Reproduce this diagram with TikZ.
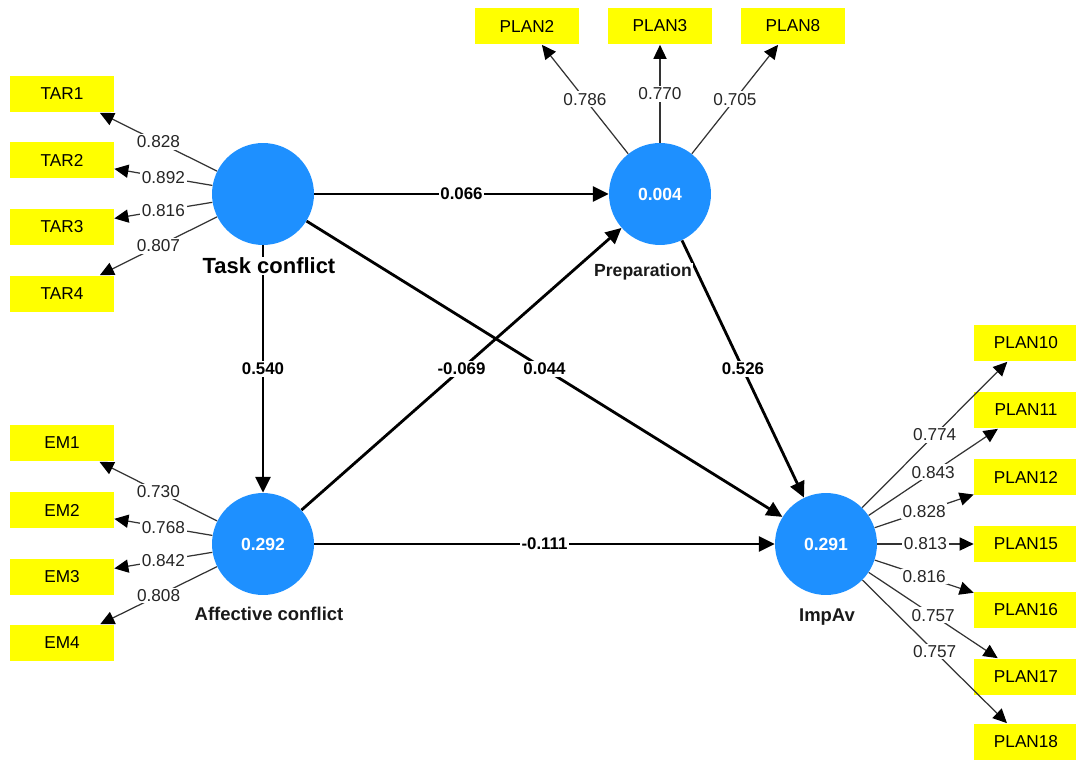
\documentclass[tikz,border=0pt]{standalone}
\usepackage{fontspec}
\setmainfont{Liberation Sans}
\usepackage{xcolor}
\usepackage{tikz}
\usetikzlibrary{arrows.meta}
\definecolor{lvblue}{RGB}{30,144,255}
\definecolor{indyellow}{RGB}{255,255,0}

\begin{document}
\begin{tikzpicture}[
  x=0.02cm, y=-0.02cm,
  ind/.style={fill=indyellow, minimum width=2.08cm, minimum height=0.74cm, inner sep=0pt, font=\fontsize{9.8}{11}\selectfont},
  lv/.style={circle, fill=lvblue, minimum size=2.04cm, inner sep=0pt, text=white, font=\fontsize{10}{12}\selectfont\bfseries},
  lvname/.style={fill=white, inner sep=0.5pt, text=black!90, font=\fontsize{10.5}{12}\selectfont\bfseries},
  struct/.style={-{Triangle[length=9pt, width=8.5pt]}, line width=1.6pt},
  load/.style={-{Triangle[length=8pt, width=7.5pt, color=black, fill=black]}, line width=0.7pt, black!80},
  coef/.style={fill=white, inner sep=1pt, font=\fontsize{9.6}{11}\selectfont\bfseries},
  wt/.style={fill=white, inner sep=1pt, text=black!85, font=\fontsize{9.8}{11}\selectfont}
]
\useasboundingbox (0,0) rectangle (1076,760);
% Latent variables
\node[lv] (task)   at (263,194) {};
\node[lv] (prep)   at (660,194) {0.004};
\node[lv] (affect) at (263,544) {0.292};
\node[lv] (impav)  at (826,544) {0.291};
% Indicators
\node[ind] (tar1) at (62,94)  {TAR1};
\node[ind] (tar2) at (62,160) {TAR2};
\node[ind] (tar3) at (62,227) {TAR3};
\node[ind] (tar4) at (62,294) {TAR4};
\node[ind] (em1) at (62,443) {EM1};
\node[ind] (em2) at (62,510) {EM2};
\node[ind] (em3) at (62,577) {EM3};
\node[ind] (em4) at (62,643) {EM4};
\node[ind] (plan2) at (527,26) {PLAN2};
\node[ind] (plan3) at (660,26) {PLAN3};
\node[ind] (plan8) at (793,26) {PLAN8};
\node[ind] (plan10) at (1026,343) {PLAN10};
\node[ind] (plan11) at (1026,410) {PLAN11};
\node[ind] (plan12) at (1026,477) {PLAN12};
\node[ind] (plan15) at (1026,544) {PLAN15};
\node[ind] (plan16) at (1026,610) {PLAN16};
\node[ind] (plan17) at (1026,677) {PLAN17};
\node[ind] (plan18) at (1026,742) {PLAN18};
% Outer loadings
\draw[load] (task) -- node[wt]{0.828} (tar1);
\draw[load] (task) -- node[wt]{0.892} (tar2);
\draw[load] (task) -- node[wt]{0.816} (tar3);
\draw[load] (task) -- node[wt]{0.807} (tar4);
\draw[load] (affect) -- node[wt]{0.730} (em1);
\draw[load] (affect) -- node[wt]{0.768} (em2);
\draw[load] (affect) -- node[wt]{0.842} (em3);
\draw[load] (affect) -- node[wt]{0.808} (em4);
\draw[load] (prep) -- node[wt]{0.786} (plan2);
\draw[load] (prep) -- node[wt]{0.770} (plan3);
\draw[load] (prep) -- node[wt]{0.705} (plan8);
\draw[load] (impav) -- node[wt]{0.774} (plan10);
\draw[load] (impav) -- node[wt]{0.843} (plan11);
\draw[load] (impav) -- node[wt]{0.828} (plan12);
\draw[load] (impav) -- node[wt]{0.813} (plan15);
\draw[load] (impav) -- node[wt]{0.816} (plan16);
\draw[load] (impav) -- node[wt]{0.757} (plan17);
\draw[load] (impav) -- node[wt]{0.757} (plan18);
% Path coefficients
\draw[struct] (task) -- node[coef]{0.066} (prep);
\draw[struct] (task) -- node[coef]{0.540} (affect);
\draw[struct] (task) -- node[coef]{0.044} (impav);
\draw[struct] (affect) -- node[coef]{-0.069} (prep);
\draw[struct] (prep) -- node[coef]{0.526} (impav);
\draw[struct] (affect) -- node[coef]{-0.111} (impav);
% Construct names
\node[lvname, text=black, font=\fontsize{12.5}{14}\selectfont\bfseries] (taskname) at (269,266) {Task conflict};
\node[lvname, font=\fontsize{10}{12}\selectfont\bfseries] (prepname) at (643,272) {Preparation};
\node[lvname] (affectname) at (269,614) {Affective conflict};
\node[lvname] (impavname) at (827,617) {ImpAv};
\end{tikzpicture}
\end{document}
